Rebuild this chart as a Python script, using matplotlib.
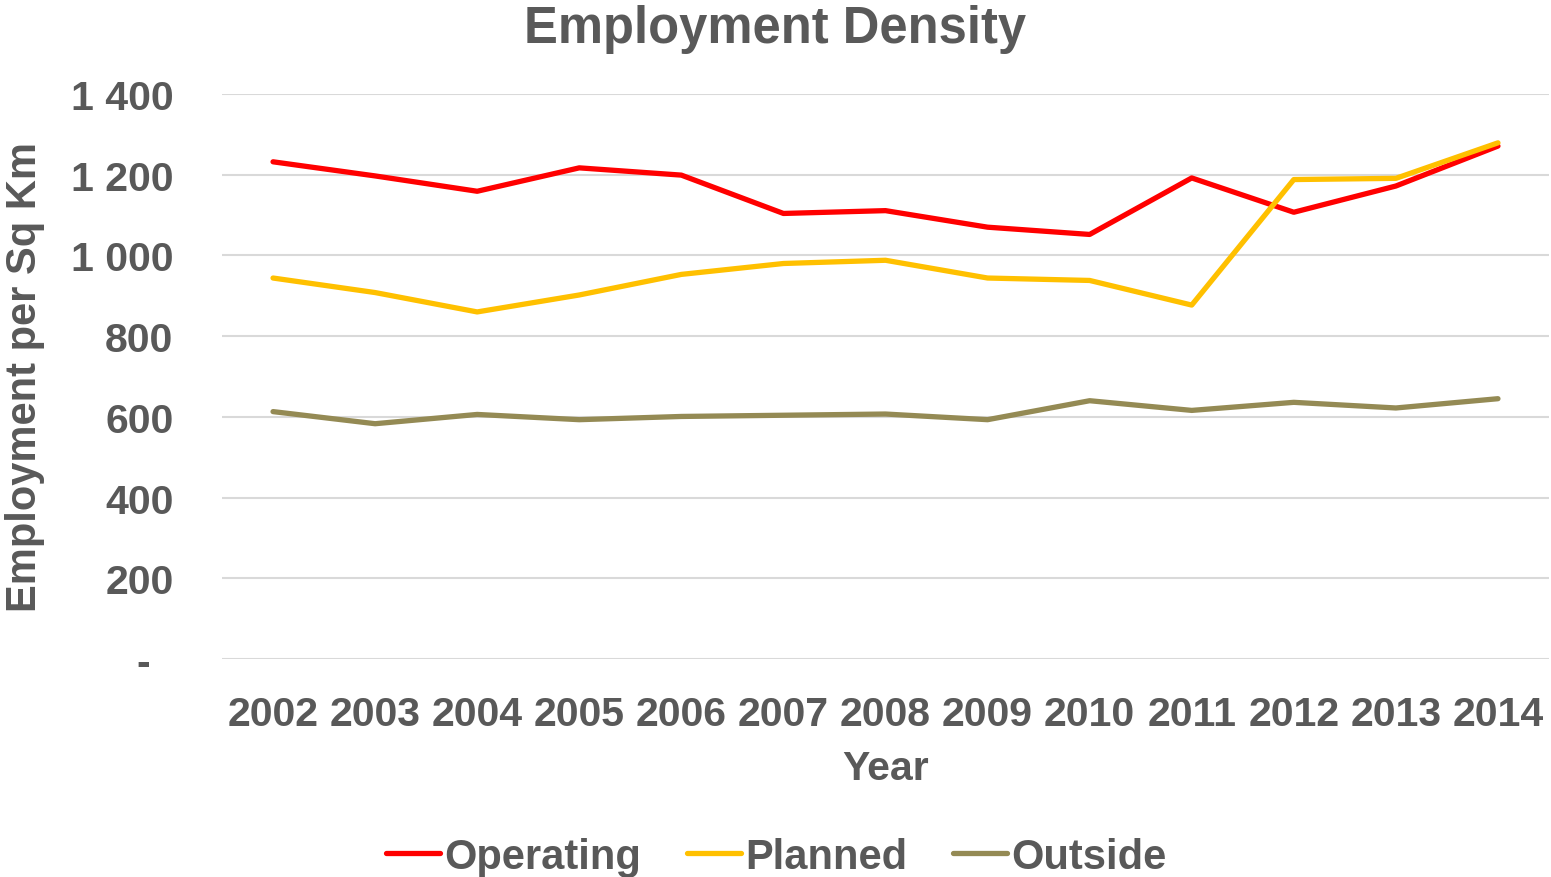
import matplotlib
matplotlib.use("Agg")
import matplotlib.pyplot as plt
from matplotlib.ticker import FuncFormatter

# data
years = [2002, 2003, 2004, 2005, 2006, 2007, 2008, 2009, 2010, 2011, 2012, 2013, 2014]
operating = [1232, 1197, 1159, 1217, 1199, 1104, 1111, 1070, 1052, 1192, 1107, 1172, 1271]
planned = [944, 908, 860, 902, 953, 980, 988, 944, 938, 877, 1188, 1191, 1279]
outside = [613, 583, 606, 593, 601, 604, 607, 593, 640, 616, 636, 622, 645]
yTicks = [0, 200, 400, 600, 800, 1000, 1200, 1400]

textColor = '#595959'
plt.rcParams['font.family'] = ['Liberation Sans', 'DejaVu Sans']
plt.rcParams['font.weight'] = 'bold'

fig = plt.figure(figsize=(15.51, 8.78), dpi=100)
ax = fig.add_axes([222 / 1551, 1 - 660 / 878, 1327 / 1551, 565 / 878])

ax.plot(years, operating, color='#FF0000', lw=3.8, label='Operating', solid_capstyle='round')
ax.plot(years, planned, color='#FFC000', lw=3.8, label='Planned', solid_capstyle='round')
ax.plot(years, outside, color='#948A54', lw=3.8, label='Outside', solid_capstyle='round')

ax.set_xlim(2001.5, 2014.5)
ax.set_ylim(0, 1400)
ax.set_yticks(yTicks)
ax.set_xticks(years)


def fmtY(v, pos):
    # excel accounting style: space as thousands separator, dash for zero
    if v == 0:
        return '-  '
    return f'{int(v):,}'.replace(',', ' ')


ax.yaxis.set_major_formatter(FuncFormatter(fmtY))
ax.tick_params(axis='both', length=0, labelsize=29.5, colors=textColor)
ax.tick_params(axis='y', pad=35)
ax.tick_params(axis='x', pad=26)
for lbl in ax.get_xticklabels() + ax.get_yticklabels():
    lbl.set_fontweight('bold')

ax.grid(axis='y', color='#D9D9D9', lw=1.5)
ax.set_axisbelow(True)
for s in ax.spines.values():
    s.set_visible(False)

fig.text(0.5, 1 - 29 / 878, 'Employment Density', ha='center', va='center',
         fontsize=36.5, fontweight='bold', color=textColor)
fig.text(25 / 1551, 1 - 377 / 878, 'Employment per Sq Km', rotation=90, ha='center',
         va='center', fontsize=30, fontweight='bold', color=textColor)
fig.text(886 / 1551, 1 - 769 / 878, 'Year', ha='center', va='center',
         fontsize=29.5, fontweight='bold', color=textColor)

leg = fig.legend(loc='center', bbox_to_anchor=(776 / 1551, 1 - 858 / 878), ncol=3,
                 frameon=False, fontsize=30, handlelength=1.3, handletextpad=0.1,
                 columnspacing=1.1, borderpad=0)
for t in leg.get_texts():
    t.set_color(textColor)
    t.set_fontweight('bold')

fig.savefig('out.png', dpi=100)
